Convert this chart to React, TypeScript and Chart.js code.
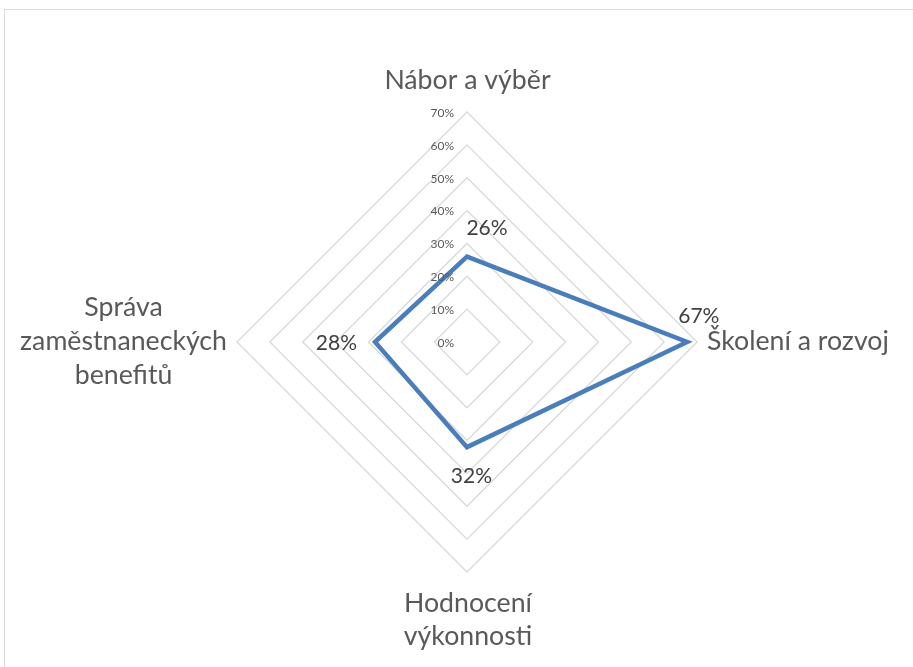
import React, { useEffect, useRef } from "react";
import { Chart, registerables } from "chart.js";

Chart.register(...registerables);

const categories: string[][] = [
  ["Nábor a výběr"],
  ["Školení a rozvoj"],
  ["Hodnocení", "výkonnosti"],
  ["Správa", "zaměstnaneckých", "benefitů"],
];
const values: number[] = [26, 67, 32, 28];
const tickValues: number[] = [0, 10, 20, 30, 40, 50, 60, 70];
const tickLabels: string[] = tickValues.map((v) => v + "%");

const FONT = "Lato, 'Open Sans', sans-serif";
const TEXT = "#595959";

const labelPlugin = {
  id: "customLabels",
  afterDraw(chart: any) {
    const ctx = chart.ctx;
    const scale = chart.scales.r;
    ctx.save();
    // tick labels, placed left of the vertical axis
    ctx.font = `12px ${FONT}`;
    ctx.fillStyle = TEXT;
    ctx.textAlign = "right";
    ctx.textBaseline = "middle";
    tickValues.forEach((v, i) => {
      const d = scale.getDistanceFromCenterForValue(v);
      ctx.fillText(tickLabels[i], scale.xCenter - 13, scale.yCenter - d + 1);
    });

    // category labels
    ctx.font = `26.7px ${FONT}`;
    ctx.fillStyle = TEXT;
    ctx.textBaseline = "alphabetic";
    const lh = 34;
    categories.forEach((lines, i) => {
      const p = scale.getPointPosition(i, scale.drawingArea);
      if (i === 0) {
        ctx.textAlign = "center";
        lines.forEach((l, k) => ctx.fillText(l, p.x + 0.5, p.y - 23 - (lines.length - 1 - k) * lh));
      } else if (i === 1) {
        ctx.textAlign = "left";
        lines.forEach((l, k) => ctx.fillText(l, p.x + 10, p.y + 8 + k * lh));
      } else if (i === 2) {
        ctx.textAlign = "center";
        lines.forEach((l, k) => ctx.fillText(l, p.x + 1, p.y + 40 + k * 33));
      } else {
        const maxW = Math.max(...lines.map((l) => ctx.measureText(l).width));
        const cx = p.x - 10 - maxW / 2;
        ctx.textAlign = "center";
        lines.forEach((l, k) => {
          ctx.fillText(l, cx, p.y + 8 + (k - 1) * lh);
        });
      }
    });

    // data labels
    const meta = chart.getDatasetMeta(0);
    const offsets = [
      [20, -21.5],
      [11.7, -18.7],
      [4.4, 36],
      [-38.6, 8],
    ];
    ctx.font = `21px ${FONT}`;
    ctx.fillStyle = "#404040";
    ctx.textAlign = "center";
    ctx.textBaseline = "alphabetic";
    meta.data.forEach((pt: any, i: number) => {
      ctx.fillText(values[i] + "%", pt.x + offsets[i][0], pt.y + offsets[i][1]);
    });
    ctx.restore();
  },
};

export default function App() {
  const ref = useRef<HTMLCanvasElement>(null);
  useEffect(() => {
    if (!ref.current) return;
    const chart = new Chart(ref.current, {
      type: "radar",
      data: {
        labels: categories,
        datasets: [
          {
            data: values,
            borderColor: "#4a7ebb",
            borderWidth: 4.5,
            fill: false,
            pointRadius: 0,
            pointHoverRadius: 0,
            tension: 0,
            borderJoinStyle: "miter",
          },
        ],
      },
      options: {
        responsive: false,
        animation: false,
        devicePixelRatio: 1,
        layout: { padding: { left: 237, right: 216, top: 112, bottom: 95 } },
        plugins: { legend: { display: false }, tooltip: { enabled: false } },
        scales: {
          r: {
            min: 0,
            max: 70,
            ticks: { stepSize: 10, display: false, showLabelBackdrop: false },
            pointLabels: { display: false },
            angleLines: { display: false },
            grid: { color: "#d9d9d9", lineWidth: 1.3 },
          },
        },
      },
      plugins: [labelPlugin],
    } as any);
    return () => chart.destroy();
  }, []);

  return (
    <div style={{ position: "fixed", left: 0, top: 0, width: 913, height: 667, background: "#fff", overflow: "hidden" }}>
      <div
        style={{
          position: "absolute",
          left: 4,
          top: 9,
          width: 940,
          height: 700,
          border: "1px solid #d9d9d9",
        }}
      />
      <canvas ref={ref} width={913} height={667} style={{ position: "absolute", left: 0, top: 0 }} />
    </div>
  );
}
